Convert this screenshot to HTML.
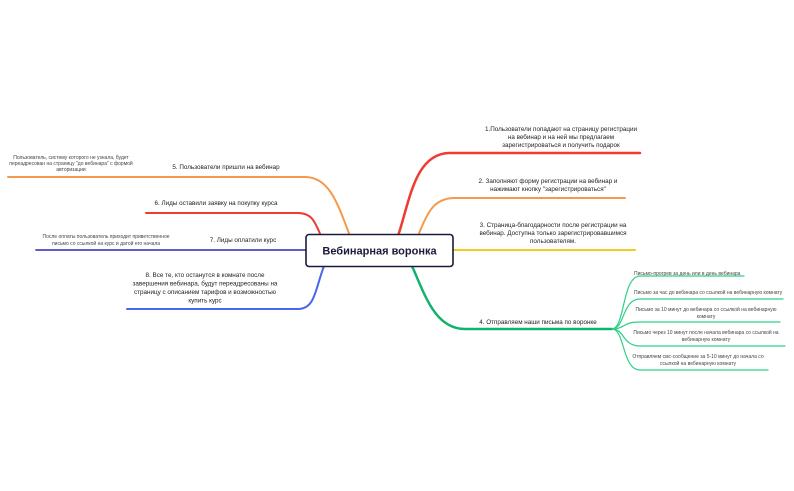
<!DOCTYPE html>
<html><head><meta charset="utf-8"><style>
body{margin:0;background:#fff;}
svg{display:block;font-family:"Liberation Sans",sans-serif;}
.t{font-size:6.3px;fill:#222;text-anchor:middle;}
.s{font-size:5px;fill:#444;}
.sm{font-size:5px;fill:#444;text-anchor:middle;}
</style></head><body>
<svg width="794" height="491" viewBox="0 0 794 491" fill="none" stroke-linecap="round">
<path d="M398,236 C410,200 415,153 450,153 L640,153" stroke="#f03b30" stroke-width="2.5"/>
<path d="M418,236 C428,210 435,198 455,198 L625,198" stroke="#f7994a" stroke-width="2"/>
<path d="M450,250 L635,250" stroke="#f2cd1d" stroke-width="2"/>
<path d="M412,266 C425,295 435,329 465,329 L612,329" stroke="#11b26b" stroke-width="2.5"/>
<g stroke="#2fcf86" stroke-width="1.2">
<path d="M612,329 C625,329 622,276 640,276 L744,276"/>
<path d="M612,329 C625,329 622,299 640,299 L783,299"/>
<path d="M612,329 C625,329 622,322 640,322 L780,322"/>
<path d="M612,329 C625,329 622,346 640,346 L785,346"/>
<path d="M612,329 C625,329 622,370 640,370 L768,370"/>
</g>
<path d="M350,236 C338,205 330,177 305,177 L8,177" stroke="#f7994a" stroke-width="2"/>
<path d="M321,236 C315,222 312,213 298,213 L146,213" stroke="#f03b30" stroke-width="2"/>
<path d="M310,250 L36,250" stroke="#4b46c4" stroke-width="1.8"/>
<path d="M324,266 C315,290 315,309 298,309 L127,309" stroke="#4866ef" stroke-width="2"/>
<rect x="306" y="234.5" width="147" height="32" rx="3" fill="#fff" stroke="#1a1a3a" stroke-width="1.6"/>
<text x="379.5" y="254.5" style="font-size:11px;font-weight:bold;fill:#1a1a3a;text-anchor:middle">Вебинарная воронка</text>
<text class="t" x="561" y="131">1.Пользователи попадают на страницу регистрации</text>
<text class="t" x="561" y="139">на вебинар и на ней мы предлагаем</text>
<text class="t" x="561" y="147">зарегистрироваться и получить подарок</text>
<text class="t" x="548" y="183">2. Заполняют форму регистрации на вебинар и</text>
<text class="t" x="548" y="191">нажимают кнопку "зарегистрироваться"</text>
<text class="t" x="553" y="227">3. Страница-благодарности после регистрации на</text>
<text class="t" x="553" y="235">вебинар. Доступна только зарегистрировавшимся</text>
<text class="t" x="553" y="243">пользователям.</text>
<text class="t" x="538" y="324">4. Отправляем наши письма по воронке</text>
<text class="s" x="634" y="275">Письмо-прогрев за день или в день вебинара</text>
<text class="s" x="634" y="294">Письмо за час до вебинара со ссылкой на вебинарную комнату</text>
<text class="sm" x="706" y="311">Письмо за 10 минут до вебинара со ссылкой на вебинарную</text>
<text class="sm" x="706" y="318">комнату</text>
<text class="sm" x="706" y="334">Письмо через 10 минут после начала вебинара со ссылкой на</text>
<text class="sm" x="706" y="341">вебинарную комнату</text>
<text class="sm" x="698" y="358">Отправляем смс-сообщение за 5-10 минут до начала со</text>
<text class="sm" x="698" y="365">ссылкой на вебинарную комнату</text>
<text class="t" x="226" y="169">5. Пользователи пришли на вебинар</text>
<text class="sm" x="71" y="159">Пользователь, систему которого не узнала, будет</text>
<text class="sm" x="71" y="165">переадресован на страницу "до вебинара" с формой</text>
<text class="sm" x="71" y="171">авторизации</text>
<text class="t" x="216" y="205">6. Лиды оставили заявку на покупку курса</text>
<text class="t" x="243" y="242">7. Лиды оплатили курс</text>
<text class="sm" x="106" y="238">После оплаты пользователь приходит приветственное</text>
<text class="sm" x="106" y="245">письмо со ссылкой на курс и датой его начала</text>
<text class="t" x="205" y="277">8. Все те, кто останутся в комнате после</text>
<text class="t" x="205" y="285.5">завершения вебинара, будут переадресованы на</text>
<text class="t" x="205" y="294">страницу с описанием тарифов и возможностью</text>
<text class="t" x="205" y="302.5">купить курс</text>
</svg>
</body></html>
